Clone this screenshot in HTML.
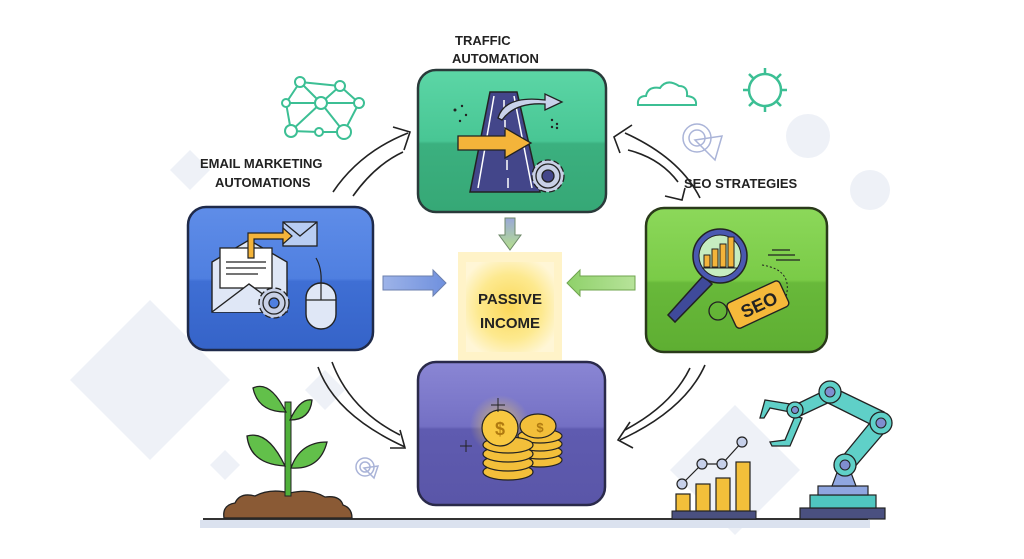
<!DOCTYPE html>
<html><head><meta charset="utf-8"><style>
html,body{margin:0;padding:0;background:#fff;}
svg{display:block;}
text{font-family:"Liberation Sans",sans-serif;font-weight:bold;}
</style></head><body>
<svg width="1024" height="559" viewBox="0 0 1024 559" xmlns="http://www.w3.org/2000/svg">
<defs>
<linearGradient id="gG" x1="0" y1="0" x2="0" y2="1"><stop offset="0" stop-color="#5cd6a6"/><stop offset="0.5" stop-color="#48c694"/><stop offset="0.52" stop-color="#3bb07f"/><stop offset="1" stop-color="#36a876"/></linearGradient>
<linearGradient id="gB" x1="0" y1="0" x2="0" y2="1"><stop offset="0" stop-color="#5f8de8"/><stop offset="0.5" stop-color="#4f7fe0"/><stop offset="0.52" stop-color="#3f6fd4"/><stop offset="1" stop-color="#3563c8"/></linearGradient>
<linearGradient id="gL" x1="0" y1="0" x2="0" y2="1"><stop offset="0" stop-color="#8cd85a"/><stop offset="0.5" stop-color="#7acb47"/><stop offset="0.52" stop-color="#68b93a"/><stop offset="1" stop-color="#5eae32"/></linearGradient>
<linearGradient id="gP" x1="0" y1="0" x2="0" y2="1"><stop offset="0" stop-color="#8a86d4"/><stop offset="0.45" stop-color="#7470c4"/><stop offset="0.47" stop-color="#5f5bb0"/><stop offset="1" stop-color="#5a56a8"/></linearGradient>
<radialGradient id="gY" cx="0.5" cy="0.5" r="0.6"><stop offset="0" stop-color="#fbd85a"/><stop offset="0.6" stop-color="#fde98e"/><stop offset="1" stop-color="#fff6d6"/></radialGradient>
<radialGradient id="glow" cx="0.5" cy="0.5" r="0.5"><stop offset="0" stop-color="#ffd84a"/><stop offset="1" stop-color="#ffd84a" stop-opacity="0"/></radialGradient>
<linearGradient id="aB" x1="0" x2="1"><stop offset="0" stop-color="#9db3e8"/><stop offset="1" stop-color="#6f90de"/></linearGradient>
<linearGradient id="aG" x1="1" x2="0"><stop offset="0" stop-color="#b7e39a"/><stop offset="1" stop-color="#8fd16a"/></linearGradient>
<linearGradient id="aD" x1="0" y1="0" x2="0" y2="1"><stop offset="0" stop-color="#9aa8d8"/><stop offset="1" stop-color="#b5e08c"/></linearGradient>
</defs>

<!-- background shapes -->
<g fill="#eef1f7">
<polygon points="190,150 210,170 190,190 170,170"/>
<polygon points="150,300 230,380 150,460 70,380"/>
<polygon points="225,450 240,465 225,480 210,465"/>
<polygon points="735,405 800,470 735,535 670,470"/>
<circle cx="808" cy="136" r="22"/>
<circle cx="870" cy="190" r="20"/>
<polygon points="325,370 345,390 325,410 305,390"/>
</g>
<rect x="200" y="520" width="670" height="8" fill="#dbe2ef"/>
<line x1="203" y1="519" x2="868" y2="519" stroke="#333" stroke-width="2"/>

<!-- network icon -->
<g stroke="#3cbf94" stroke-width="2" fill="none">
<path d="M300,82 L340,86 M300,82 L286,103 M300,82 L321,103 M340,86 L321,103 M340,86 L359,103 M286,103 L321,103 L359,103 M286,103 L291,131 M321,103 L291,131 M321,103 L344,132 M359,103 L344,132 M291,131 L319,132 L344,132"/>
<circle cx="300" cy="82" r="5" fill="#fff"/><circle cx="340" cy="86" r="5" fill="#fff"/><circle cx="286" cy="103" r="4" fill="#fff"/>
<circle cx="321" cy="103" r="6" fill="#fff"/><circle cx="359" cy="103" r="5" fill="#fff"/><circle cx="291" cy="131" r="6" fill="#fff"/>
<circle cx="319" cy="132" r="4" fill="#fff"/><circle cx="344" cy="132" r="7" fill="#fff"/>
</g>
<!-- cloud -->
<path d="M638,105 Q637,96 646,96 Q648,86 660,88 Q667,78 679,86 Q688,86 687,96 Q697,97 696,105 Z" fill="none" stroke="#3cbf94" stroke-width="2"/>
<!-- sun -->
<g stroke="#3cbf94" stroke-width="2.5" fill="none">
<circle cx="765" cy="90" r="16"/>
<path d="M765,68 V74 M765,106 V112 M743,90 H749 M781,90 H787 M749,74 L753,78 M781,106 L777,102 M781,74 L777,78 M749,106 L753,102"/>
</g>
<!-- target icons -->
<g stroke="#aab4d8" stroke-width="1.5" fill="none">
<circle cx="697" cy="138" r="14"/><circle cx="697" cy="138" r="8"/><path d="M695,140 L722,136 L715,160 Z"/>
<circle cx="365" cy="467" r="9"/><circle cx="365" cy="467" r="5"/><path d="M364,468 L378,466 L374,478 Z"/>
</g>

<!-- labels -->
<text x="455" y="45" font-size="13" fill="#222">TRAFFIC</text>
<text x="452" y="63" font-size="13" fill="#222">AUTOMATION</text>
<text x="200" y="168" font-size="13" fill="#222">EMAIL MARKETING</text>
<text x="215" y="187" font-size="13" fill="#222">AUTOMATIONS</text>
<text x="684" y="188" font-size="13" fill="#222">SEO STRATEGIES</text>

<!-- curved arrows -->
<g stroke="#222" stroke-width="1.6" fill="none">
<path d="M333,192 Q360,152 408,133"/><path d="M353,196 Q375,165 403,152"/><path d="M393,127 L410,132 L404,150"/>
<path d="M700,198 Q680,158 625,133"/><path d="M678,182 Q660,158 628,150"/><path d="M632,125 L614,137 L620,153"/>
<path d="M665,196 L682,200 L685,188"/>
<path d="M318,367 Q335,415 405,447"/><path d="M332,362 Q350,410 400,435"/><path d="M390,448 L405,448 L400,430"/>
<path d="M705,365 Q685,410 620,440"/><path d="M690,368 Q672,405 625,430"/><path d="M630,422 L618,440 L633,448"/>
</g>

<!-- PASSIVE INCOME -->
<rect x="458" y="252" width="104" height="108" fill="#fff3c8"/>
<rect x="466" y="262" width="88" height="90" fill="url(#gY)"/>
<text x="510" y="304" font-size="15" text-anchor="middle" fill="#222">PASSIVE</text>
<text x="510" y="328" font-size="15" text-anchor="middle" fill="#222">INCOME</text>

<!-- straight arrows -->
<path d="M383,276 H433 V270 L446,283 L433,296 V290 H383 Z" fill="url(#aB)" stroke="#6b7fae" stroke-width="1"/>
<path d="M635,276 H580 V270 L567,283 L580,296 V290 H635 Z" fill="url(#aG)" stroke="#6fa44e" stroke-width="1"/>
<path d="M505,218 H515 V235 H521 L510,250 L499,235 H505 Z" fill="url(#aD)" stroke="#6f8a6a" stroke-width="1"/>

<!-- green traffic box -->
<rect x="418" y="70" width="188" height="142" rx="18" fill="url(#gG)" stroke="#2a3a3a" stroke-width="2.5"/>
<path d="M470,192 L490,92 L517,92 L540,192 Z" fill="#43468a" stroke="#222" stroke-width="1.5"/>
<path d="M478,188 L494,96 M532,188 L514,96" stroke="#fff" stroke-width="1.5"/>
<path d="M504,100 V110 M505,120 V130 M506,140 V150 M507,160 V170 M508,178 V188" stroke="#fff" stroke-width="1.5"/>
<path d="M498,118 Q505,95 545,100 V94 L562,102 L545,110 V104 Q515,102 502,120 Z" fill="#c9d2ea" stroke="#222" stroke-width="1.3"/>
<path d="M458,136 H505 V128 L531,143 L505,158 V150 H458 Z" fill="#f4b43a" stroke="#222" stroke-width="1.3"/>
<g transform="translate(548,176)"><circle r="16" fill="#c8d0e6" stroke="#222" stroke-width="1.3" stroke-dasharray="6 3"/><circle r="12" fill="#c8d0e6" stroke="#222" stroke-width="1.3"/><circle r="6" fill="#43468a" stroke="#222" stroke-width="1.3"/></g>
<g fill="#222"><circle cx="455" cy="110" r="1.5"/><circle cx="462" cy="106" r="1.2"/><circle cx="466" cy="115" r="1.2"/><circle cx="460" cy="121" r="1.2"/><circle cx="552" cy="120" r="1.2"/><circle cx="557" cy="124" r="1.2"/><circle cx="552" cy="127" r="1.2"/><circle cx="557" cy="128" r="1.2"/></g>

<!-- blue email box -->
<rect x="188" y="207" width="185" height="143" rx="18" fill="url(#gB)" stroke="#1f2a4a" stroke-width="2.5"/>
<rect x="283" y="222" width="34" height="24" fill="#b8cdf2" stroke="#222" stroke-width="1.3"/>
<path d="M283,222 L300,236 L317,222" fill="none" stroke="#222" stroke-width="1.3"/>
<path d="M212,262 L249,240 L287,262 V312 H212 Z" fill="#dfe7f6" stroke="#222" stroke-width="1.4"/>
<rect x="220" y="248" width="52" height="40" fill="#fff" stroke="#222" stroke-width="1.3"/>
<path d="M226,262 H266 M226,268 H266 M226,274 H258" stroke="#222" stroke-width="1.2"/>
<path d="M212,312 L249,284 L287,312" fill="#dfe7f6" stroke="#222" stroke-width="1.4"/>
<path d="M248,258 V233 H283 V228 L292,236 L283,244 V239 H254 V258 Z" fill="#f4b43a" stroke="#222" stroke-width="1.2"/>
<g transform="translate(274,303)"><circle r="15" fill="#c8d0e6" stroke="#222" stroke-width="1.3" stroke-dasharray="6 3"/><circle r="11" fill="#c8d0e6" stroke="#222" stroke-width="1.3"/><circle r="5" fill="#4f7fe0" stroke="#222" stroke-width="1.3"/></g>
<rect x="306" y="283" width="30" height="46" rx="15" fill="#dfe7f6" stroke="#222" stroke-width="1.4"/>
<path d="M306,300 H336 M321,283 V300" stroke="#222" stroke-width="1.2"/>
<path d="M321,283 Q322,268 316,258" fill="none" stroke="#222" stroke-width="1.2"/>

<!-- SEO box -->
<rect x="646" y="208" width="181" height="144" rx="18" fill="url(#gL)" stroke="#2a3a1a" stroke-width="2.5"/>
<path d="M703,276 L668,315 L675,322 L712,284 Z" fill="#3f4a9a" stroke="#222" stroke-width="1.5"/>
<circle cx="720" cy="256" r="27" fill="#4a58b0" stroke="#222" stroke-width="1.5"/>
<circle cx="720" cy="256" r="21" fill="#c6ecc0" stroke="#222" stroke-width="1"/>
<g fill="#f4b43a" stroke="#222" stroke-width="1"><rect x="704" y="255" width="6" height="12"/><rect x="712" y="249" width="6" height="18"/><rect x="720" y="244" width="6" height="23"/><rect x="728" y="237" width="6" height="30"/></g>
<path d="M702,268 H738" stroke="#222" stroke-width="1"/>
<path d="M772,250 H790 M768,255 H795 M776,260 H800" stroke="#222" stroke-width="1.3"/>
<path d="M762,265 Q795,270 785,300" fill="none" stroke="#222" stroke-width="1" stroke-dasharray="2 2"/>
<circle cx="718" cy="311" r="9" fill="none" stroke="#222" stroke-width="1.3"/>
<g transform="translate(757,305) rotate(-25)"><rect x="-28" y="-14" width="58" height="28" rx="4" fill="#f5b93a" stroke="#222" stroke-width="1.4"/><text x="2" y="7" font-size="18" text-anchor="middle" fill="#222">SEO</text></g>

<!-- purple box -->
<rect x="418" y="362" width="187" height="143" rx="18" fill="url(#gP)" stroke="#2a2a4a" stroke-width="2.5"/>
<circle cx="500" cy="425" r="30" fill="url(#glow)" opacity="0.7"/>
<g stroke="#222" stroke-width="1.2" fill="#f3bf3a">
<ellipse cx="540" cy="460" rx="22" ry="7"/><ellipse cx="540" cy="452" rx="22" ry="7"/><ellipse cx="540" cy="444" rx="22" ry="7"/><ellipse cx="540" cy="436" rx="22" ry="7"/>
<ellipse cx="538" cy="426" rx="18" ry="12"/>
<ellipse cx="508" cy="472" rx="25" ry="8"/><ellipse cx="508" cy="463" rx="25" ry="8"/><ellipse cx="508" cy="454" rx="25" ry="8"/><ellipse cx="508" cy="445" rx="25" ry="8"/>
<circle cx="500" cy="428" r="18" fill="#f8c840"/>
</g>
<text x="500" y="435" font-size="18" text-anchor="middle" fill="#b07a10">$</text>
<text x="540" y="432" font-size="13" text-anchor="middle" fill="#b07a10">$</text>
<path d="M498,398 V412 M491,405 H505 M466,440 V452 M460,446 H472" stroke="#222" stroke-width="1"/>

<!-- plant -->
<path d="M224,518 Q222,505 235,503 Q240,492 255,496 Q270,488 290,493 Q310,488 325,497 Q340,495 343,505 Q352,508 352,518 Z" fill="#8a5a35" stroke="#222" stroke-width="1.3"/>
<rect x="285" y="402" width="6" height="94" fill="#4fb03a" stroke="#222" stroke-width="1"/>
<g fill="#62c04a" stroke="#222" stroke-width="1.3">
<path d="M286,412 Q270,380 253,388 Q258,412 286,412 Z"/>
<path d="M290,420 Q300,398 312,400 Q310,420 290,420 Z"/>
<path d="M285,466 Q268,430 247,436 Q250,464 285,466 Z"/>
<path d="M291,468 Q300,442 327,442 Q320,470 291,468 Z"/>
</g>

<!-- bar chart -->
<rect x="672" y="511" width="84" height="8" fill="#4a5080" stroke="#222" stroke-width="1"/>
<g fill="#f3bf3a" stroke="#222" stroke-width="1.2">
<rect x="676" y="494" width="14" height="17"/><rect x="696" y="484" width="14" height="27"/><rect x="716" y="478" width="14" height="33"/><rect x="736" y="462" width="14" height="49"/></g>
<path d="M682,484 L702,464 L722,464 L742,442" stroke="#222" stroke-width="1.2" fill="none"/>
<g fill="#c6d0ea" stroke="#222" stroke-width="1.2"><circle cx="682" cy="484" r="5"/><circle cx="702" cy="464" r="5"/><circle cx="722" cy="464" r="5"/><circle cx="742" cy="442" r="5"/></g>

<!-- robot -->
<rect x="800" y="508" width="85" height="11" fill="#4a5080" stroke="#222" stroke-width="1.2"/>
<rect x="810" y="495" width="66" height="13" fill="#4fc6c0" stroke="#222" stroke-width="1.2"/>
<rect x="818" y="486" width="50" height="9" fill="#8fa6e0" stroke="#222" stroke-width="1.2"/>
<path d="M832,486 L838,470 L850,470 L856,486 Z" fill="#8fa6e0" stroke="#222" stroke-width="1.2"/>
<g fill="#5fd0c8" stroke="#222" stroke-width="1.3">
<path d="M838,462 L874,418 L888,428 L852,470 Z"/>
<path d="M828,385 L884,412 L878,428 L822,400 Z"/>
<path d="M795,405 L830,388 L834,400 L800,416 Z"/>
<path d="M790,404 L765,400 L760,418 L764,418 L770,408 L790,412 Z"/>
<path d="M795,416 L785,440 L770,442 L772,446 L790,446 L802,418 Z"/>
<circle cx="845" cy="465" r="11"/><circle cx="881" cy="423" r="11"/><circle cx="830" cy="392" r="11"/><circle cx="795" cy="410" r="8"/>
</g>
<g fill="#7f8ed0" stroke="#222" stroke-width="1"><circle cx="845" cy="465" r="5"/><circle cx="881" cy="423" r="5"/><circle cx="830" cy="392" r="5"/><circle cx="795" cy="410" r="3.5"/></g>
</svg>
</body></html>
